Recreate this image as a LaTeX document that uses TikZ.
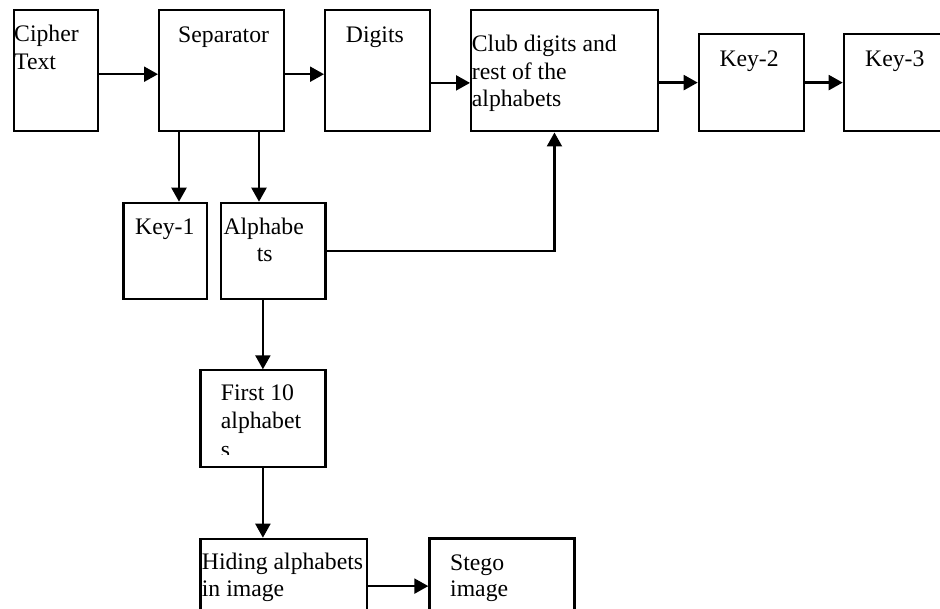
\documentclass[tikz,border=0pt]{standalone}
\usepackage{fontspec}
\setmainfont{Liberation Serif}
\usetikzlibrary{arrows.meta}
\begin{document}
\begin{tikzpicture}[x=1pt,y=-1pt,
  box/.style={draw=black,line width=2.2pt,rectangle,inner sep=0pt},
  txt/.style={anchor=base west,inner sep=0pt,font=\fontsize{23.7pt}{28pt}\selectfont},
  arr/.style={line width=2.2pt,-{Triangle[length=14pt,width=15pt]}}]
\clip (0,0) rectangle (940,609);
\useasboundingbox (0,0) rectangle (940,609);
% boxes
\node[box,minimum width=84pt,minimum height=121pt,anchor=north west] (cipher) at (12.7,9.3) {};
\node[box,minimum width=125pt,minimum height=121pt,anchor=north west] (sep) at (158,9.3) {};
\node[box,minimum width=104.7pt,minimum height=121pt,anchor=north west] (digits) at (324,9.3) {};
\node[box,minimum width=186.7pt,minimum height=121pt,anchor=north west] (club) at (470,9.3) {};
\node[box,minimum width=105pt,minimum height=97pt,anchor=north west] (key2) at (697.7,33) {};
\node[box,minimum width=120pt,minimum height=97pt,anchor=north west] (key3) at (842.7,33) {};
\node[box,minimum width=83.7pt,minimum height=96pt,anchor=north west] (key1) at (122.3,201.7) {};
\node[box,minimum width=104.3pt,minimum height=96pt,anchor=north west] (alph) at (220,201.7) {};
\node[box,minimum width=125pt,minimum height=96.4pt,anchor=north west] (first) at (199.3,369.3) {};
\node[box,minimum width=166.7pt,minimum height=94.6pt,anchor=north west] (hide) at (199.3,537.7) {};
\node[box,minimum width=145pt,minimum height=95.4pt,anchor=north west] (stego) at (428.3,537.3) {};
% texts
\node[txt] (t1a) at (14,42) {Cipher};
\node[txt] (t1b) at (14,69.3) {Text};
\node[txt] (t2) at (178,42.7) {Separator};
\node[txt] (t3) at (345.7,42.7) {Digits};
\node[txt] (t4a) at (471.7,52) {Club digits and};
\node[txt] (t4b) at (471.7,79.5) {rest of the};
\node[txt] (t4c) at (471.7,107) {alphabets};
\node[txt] (t5) at (719.3,66.7) {Key-2};
\node[txt] (t6) at (865,66.7) {Key-3};
\node[txt] (t7) at (135,235) {Key-1};
\node[txt] (t8a) at (223.3,234.3) {Alphabe};
\node[txt] (t8b) at (256.7,261.7) {ts};
\node[txt] (t9a) at (220.7,401) {First 10};
\node[txt] (t9b) at (220.7,429) {alphabet};
\begin{scope}
\clip (199,440) rectangle (330,455);
\node[txt] (t9c) at (220.7,457.5) {s};
\end{scope}
\node[txt] (t10a) at (201.7,569) {Hiding alphabets};
\node[txt] (t10b) at (201.7,596.7) {in image};
\node[txt] (t11a) at (450,570) {Stego};
\node[txt] (t11b) at (450,596.7) {image};
% connector anchors
\coordinate (s1) at ([xshift=21pt]sep.south west);
\coordinate (s2) at ([xshift=101pt]sep.south west);
% connectors
\draw[arr] ([yshift=-3.3pt]cipher.east) -- ([yshift=-3.3pt]sep.west);
\draw[arr] ([yshift=-3.3pt]sep.east) -- ([yshift=-3.3pt]digits.west);
\draw[arr] ([yshift=-12pt]digits.east) -- ([yshift=-12pt]club.west);
\draw[arr] (club.east |- key2.west) -- (key2.west);
\draw[arr] (key2.east) -- (key3.west);
\draw[arr] (s1) -- (s1 |- key1.north);
\draw[arr] (s2) -- (s2 |- alph.north);
\draw[arr] (alph.east) -| ([xshift=-10pt]club.south);
\draw[arr] (first.north |- alph.south) -- (first.north);
\draw[arr] (first.south) -- (first.south |- hide.north);
\draw[arr] (hide.east) -- (stego.west);
\end{tikzpicture}
\end{document}
